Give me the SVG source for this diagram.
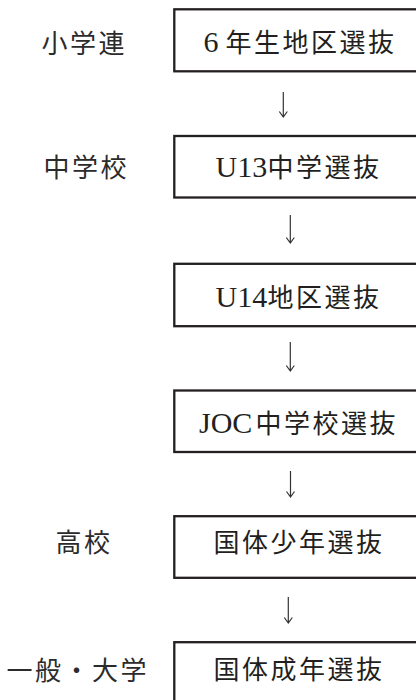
<svg xmlns="http://www.w3.org/2000/svg" width="416" height="700" viewBox="0 0 416 700">
<style>
.box{fill:#fff;stroke:#231f20;stroke-width:2.3}
.t{font-family:"Noto Sans CJK JP","Liberation Serif",sans-serif;font-size:26px;fill:#231f20}
.cj{letter-spacing:2.5px}
.lt{font-family:"Liberation Serif",serif;font-size:30px;letter-spacing:0}
.lab{font-family:"Noto Sans CJK JP",sans-serif;font-size:26px;fill:#2b2b2b;letter-spacing:2.5px}
.arr{fill:none;stroke:#333;stroke-width:1.2}
</style>
<rect width="416" height="700" fill="#fff"/>
<g id="connectors">
<path class="arr" d="M283.3 92V117M279.3 111.5L283.3 117L287.3 111.5"/>
<path class="arr" d="M290.3 215V243M286.3 237.5L290.3 243L294.3 237.5"/>
<path class="arr" d="M290.3 342V371M286.3 365.5L290.3 371L294.3 365.5"/>
<path class="arr" d="M290.5 471V497M286.5 491.5L290.5 497L294.5 491.5"/>
<path class="arr" d="M288.3 597V623M284.3 617.5L288.3 623L292.3 617.5"/>
</g>
<g id="n1">
<rect class="box" x="174.3" y="9.3" width="260" height="62"/>
<text class="t" y="52"><tspan class="lt" x="203.5">6</tspan><tspan class="cj" x="225.5">年生地区選抜</tspan></text>
</g>
<g id="n2">
<rect class="box" x="174.3" y="136" width="260" height="61.5"/>
<text class="t" y="177"><tspan class="lt" x="215.5">U13</tspan><tspan class="cj" x="267.5">中学選抜</tspan></text>
</g>
<g id="n3">
<rect class="box" x="174.3" y="263.8" width="260" height="62.4"/>
<text class="t" y="307"><tspan class="lt" x="215.5">U14</tspan><tspan class="cj" x="267.5">地区選抜</tspan></text>
</g>
<g id="n4">
<rect class="box" x="174.3" y="390.5" width="260" height="61.5"/>
<text class="t" y="433"><tspan class="lt" x="199">JOC</tspan><tspan class="cj" x="255.5">中学校選抜</tspan></text>
</g>
<g id="n5">
<rect class="box" x="174.3" y="516.2" width="260" height="61.6"/>
<text class="t cj" x="213.5" y="552">国体少年選抜</text>
</g>
<g id="n6">
<rect class="box" x="174.3" y="642.2" width="260" height="80"/>
<text class="t cj" x="213.5" y="679">国体成年選抜</text>
</g>
<g id="labels">
<text class="lab" x="41.5" y="53">小学連</text>
<text class="lab" x="43.5" y="177">中学校</text>
<text class="lab" x="55.5" y="552">高校</text>
<text class="lab" x="6.5" y="680">一般・大学</text>
</g>
</svg>
